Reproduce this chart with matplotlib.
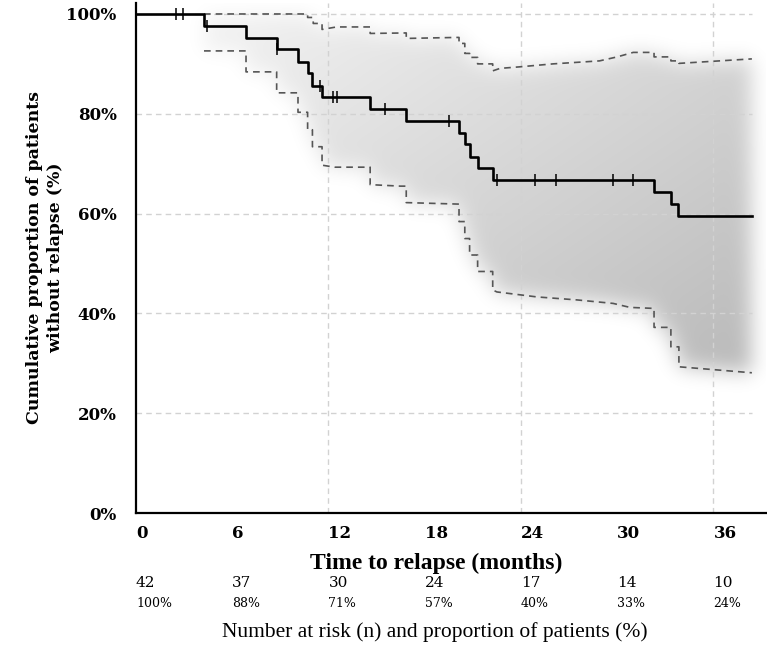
import numpy as np
import matplotlib
matplotlib.use("Agg")
import matplotlib.pyplot as plt
import matplotlib.transforms as mtransforms

# Kaplan-Meier estimate: time (months) and % of patients without relapse
km_time = [0, 4.24, 6.86, 8.77, 10.1, 10.7, 11.0, 11.6, 14.6, 16.85,
           20.14, 20.5, 20.8, 21.3, 22.24, 32.3, 33.35, 33.8, 38.4]
km_surv = [100, 97.6, 95.2, 92.9, 90.4, 88.2, 85.6, 83.3, 80.9, 78.5,
           76.2, 73.9, 71.4, 69.1, 66.7, 64.3, 61.9, 59.6, 59.6]
censor_time = [2.5, 2.9, 4.45, 8.8, 11.5, 12.3, 12.55, 15.5, 19.5, 22.5,
               24.9, 26.2, 29.75, 31.0]

# confidence band
upper_time = [4.24, 10.7, 10.7, 11.05, 11.05, 11.6, 11.6, 12.5, 14.6, 14.6,
              16.85, 16.85, 20.0, 20.14, 20.14, 20.5, 20.5, 20.8, 20.8, 21.3,
              21.3, 22.24, 22.24, 22.7, 23.9, 26.0, 28.9, 30.0, 31.0, 32.3,
              32.3, 33.35, 33.35, 33.85, 33.85, 38.4]
upper_ci = [100, 100, 99.3, 99.3, 98.1, 98.1, 96.9, 97.4, 97.4, 96.1,
            96.2, 95.1, 95.3, 95.3, 94.1, 94.1, 92.1, 92.1, 91.3, 91.3,
            90.0, 90.0, 88.6, 89.1, 89.4, 90.0, 90.6, 91.4, 92.3, 92.3,
            91.4, 91.4, 90.6, 90.6, 90.1, 91.0]
lower_time = [4.24, 6.86, 6.86, 8.77, 8.77, 10.1, 10.1, 10.7, 10.7, 11.0,
              11.0, 11.6, 11.6, 12.4, 14.6, 14.6, 16.5, 16.85, 16.85, 20.14,
              20.14, 20.5, 20.5, 20.8, 20.8, 21.3, 21.3, 22.24, 22.24, 22.5,
              25.0, 27.5, 29.75, 30.8, 32.3, 32.3, 33.35, 33.35, 33.85, 33.85,
              38.4]
lower_ci = [92.6, 92.6, 88.4, 88.4, 84.2, 84.2, 80.3, 80.3, 76.8, 76.8,
            73.4, 73.4, 69.7, 69.3, 69.3, 65.8, 65.5, 65.5, 62.2, 61.9,
            58.4, 58.4, 55.0, 55.0, 51.7, 51.7, 48.4, 48.4, 44.7, 44.3,
            43.3, 42.7, 42.0, 41.2, 41.0, 37.2, 37.2, 33.3, 33.3, 29.3,
            28.1]

tick_months = [0, 6, 12, 18, 24, 30, 36]
grid_months = [12, 24, 36]
y_ticks = [0, 20, 40, 60, 80, 100]
at_risk_n = [42, 37, 30, 24, 17, 14, 10]
at_risk_pct = [100, 88, 71, 57, 40, 33, 24]

end_time = km_time[-1]
serif = "DejaVu Serif"
times = "Liberation Serif"


def blur(img, sx, sy):
    """Separable gaussian blur, sigma in pixels."""
    def kernel(s):
        r = int(3 * s)
        k = np.exp(-0.5 * (np.arange(-r, r + 1) / s) ** 2)
        return k / k.sum()
    kx, ky = kernel(sx), kernel(sy)
    out = np.apply_along_axis(lambda r: np.convolve(r, kx, mode="same"), 1, img)
    out = np.apply_along_axis(lambda c: np.convolve(c, ky, mode="same"), 0, out)
    return out


fig = plt.figure(figsize=(7.67, 6.54), dpi=100)
ax = fig.add_axes([136 / 767, 1 - 513 / 654, 630 / 767, 510 / 654])

# soft grey band between the confidence limits, darker towards lower right
x0, x1, y0, y1 = -3.0, 42.0, -12.0, 114.0
gx = np.linspace(x0, x1, 720)
gy = np.linspace(y0, y1, 630)
X, Y = np.meshgrid(gx, gy)
hi = np.interp(gx, upper_time, upper_ci)
lo = np.interp(gx, lower_time, lower_ci)
inside = (Y <= hi[None, :]) & (Y >= lo[None, :]) & \
         (X >= km_time[1]) & (X <= end_time)
shade = np.where(inside, 0.035 + 0.13 * X / end_time + 0.11 * (100 - Y) / 70, 0.0)
shade = blur(shade, 10, 10)
rgba = np.zeros(shade.shape + (4,))
rgba[..., 3] = np.clip(shade, 0, 1)
ax.imshow(rgba, extent=[x0, x1, y0, y1], origin="lower", aspect="auto",
          interpolation="bilinear", zorder=0)

# grid
for g in grid_months:
    ax.axvline(g, color="#d2d2d2", lw=1, ls=(0, (4, 3)), zorder=1)
ax.hlines(y_ticks[1:], 0, end_time, color="#d2d2d2", lw=1, ls=(0, (4, 3)), zorder=1)

# confidence limits
ax.plot(upper_time, upper_ci, color="#555555", lw=1.2, ls=(0, (4, 3)), zorder=2)
ax.plot(lower_time, lower_ci, color="#555555", lw=1.2, ls=(0, (4, 3)), zorder=2)

# survival curve + censoring marks
ax.step(km_time, km_surv, where="post", color="black", lw=1.9, zorder=4,
        clip_on=False)
idx = np.searchsorted(km_time, censor_time, side="right") - 1
ax.plot(censor_time, np.array(km_surv)[idx], ls="none", marker="|",
        ms=8, mew=1.1, color="black", zorder=5)

ax.set_xlim(0, 39.28)
ax.set_ylim(0, 102.2)

for s in ["top", "right"]:
    ax.spines[s].set_visible(False)
for s in ["left", "bottom"]:
    ax.spines[s].set_linewidth(1.6)
    ax.spines[s].set_color("black")

ax.set_xticks(tick_months)
ax.set_xticklabels([str(m) for m in tick_months], fontfamily=serif,
                   fontweight="bold", fontsize=12)
for lab in ax.get_xticklabels():
    lab.set_ha("left")
ax.set_yticks(y_ticks)
ax.set_yticklabels([f"{v}%" for v in y_ticks], fontfamily=serif,
                   fontweight="bold", fontsize=12)
ax.tick_params(axis="x", length=0, pad=9)
ax.tick_params(axis="y", length=0, pad=14)

ax.set_xlabel("Time to relapse (months)", fontfamily=times, fontweight="bold",
              fontsize=17)
ax.xaxis.set_label_coords(0.476, -0.098)
ax.xaxis.label.set_va("center")
ax.set_ylabel("Cumulative proportion of patients\nwithout relapse (%)",
              fontfamily=serif, fontweight="bold", fontsize=12.5, linespacing=1.35)
ax.yaxis.label.set_va("center")
ax.yaxis.set_label_coords(-0.144, 0.5)

# number at risk table
trans = mtransforms.blended_transform_factory(ax.transData, ax.transAxes)
for m, n, p in zip(tick_months, at_risk_n, at_risk_pct):
    ax.text(m, -0.137, str(n), transform=trans, ha="left", va="center",
            fontfamily=serif, fontsize=11)
    ax.text(m, -0.178, f"{p}%", transform=trans, ha="left", va="center",
            fontfamily=serif, fontsize=9)
ax.text(0.475, -0.233, "Number at risk (n) and proportion of patients (%)",
        transform=ax.transAxes, ha="center", va="center", fontfamily=times,
        fontsize=15.5)

fig.savefig("out.png", dpi=100)
